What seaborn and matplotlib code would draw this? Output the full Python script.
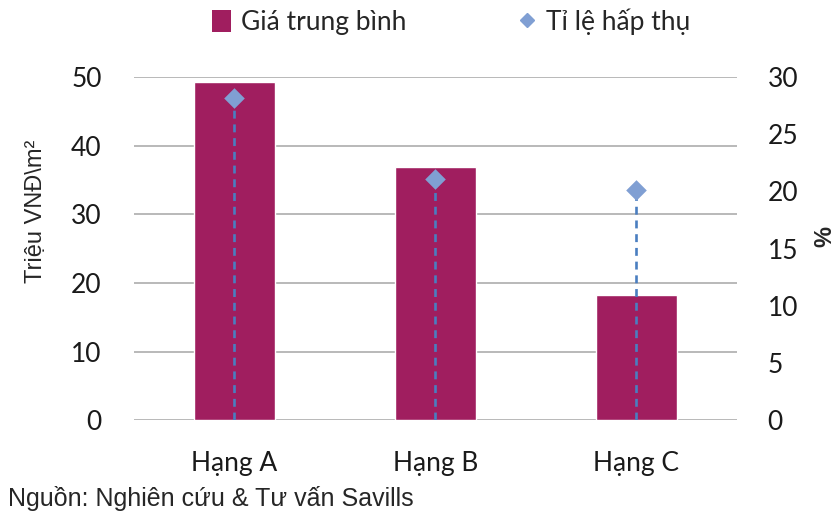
# Giá trung bình & tỉ lệ hấp thụ theo hạng
import numpy as np
import pandas as pd
import matplotlib
matplotlib.use("Agg")
import matplotlib.pyplot as plt
from matplotlib.lines import Line2D
from matplotlib.patches import Patch
import seaborn as sns

# Data
categories = ["Hạng A", "Hạng B", "Hạng C"]
gia_trung_binh = [49.3, 36.9, 18.2]   # Triệu VNĐ/m2
ti_le_hap_thu = [28.2, 21.1, 20.1]    # %
left_ticks = [0, 10, 20, 30, 40, 50]
right_ticks = [0, 5, 10, 15, 20, 25, 30]

df = pd.DataFrame({"hang": categories, "gia": gia_trung_binh, "ti_le": ti_le_hap_thu})

bar_color = "#A01E5F"
dot_color = "#809FD3"
line_color = "#4A7EC0"

sns.set_style("white")
plt.rcParams["font.family"] = ["Lato", "DejaVu Sans"]

fig = plt.figure(figsize=(8.36, 5.13), dpi=100)
ax = fig.add_axes([0.160, 0.181, 0.7216, 0.669])

sns.barplot(data=df, x="hang", y="gia", color=bar_color, width=0.4,
            saturation=1, ax=ax, zorder=2)
ax.set_ylim(0, 50)
ax.set_xlim(-0.5, 2.5)
ax.set_yticks(left_ticks)
ax.yaxis.grid(True, color="#A6A6A6", linewidth=1.1, zorder=0)
ax.set_axisbelow(True)
ax.tick_params(axis="y", length=0, pad=23, labelsize=19, labelcolor="#1a1a1a")
ax.tick_params(axis="x", length=0, pad=22, labelsize=19, labelcolor="#1a1a1a")
ax.set_xlabel("")
ax.set_ylabel("Triệu VNĐ\\m²", fontsize=17, family="Liberation Sans",
              ha="center", va="center")
ax.yaxis.set_label_coords(-0.1625, 0.608)
for s in ax.spines.values():
    s.set_visible(False)

ax2 = ax.twinx()
xpos = np.arange(len(categories))
ax2.vlines(xpos, 0, df["ti_le"], colors=line_color, linewidth=1.9,
           linestyles=(0, (3, 2.2)), zorder=2)
sns.scatterplot(x=xpos, y=df["ti_le"], marker="D", s=110, color=dot_color,
                edgecolor=dot_color, linewidth=0, ax=ax2, zorder=3)
ax2.set_ylim(0, 30)
ax2.set_xlim(-0.5, 2.5)
ax2.set_yticks(right_ticks)
ax2.tick_params(axis="y", length=0, pad=22, labelsize=19, labelcolor="#1a1a1a")
ax2.set_ylabel("%", fontsize=17, fontweight="bold", family="Liberation Sans",
               rotation=90, ha="center", va="center")
ax2.yaxis.set_label_coords(1.146, 0.535)
for s in ax2.spines.values():
    s.set_visible(False)

handles = [Patch(facecolor=bar_color, edgecolor="none"),
           Line2D([], [], marker="D", linestyle="none", markersize=7,
                  markerfacecolor=dot_color, markeredgecolor=dot_color)]
fig.legend(handles, ["Giá trung bình", "Tỉ lệ hấp thụ"], loc="center",
           bbox_to_anchor=(0.540, 0.958), ncol=2, frameon=False, fontsize=19,
           handlelength=0.7, handleheight=0.9, handletextpad=0.4,
           columnspacing=4.2)

fig.text(0.010, 0.029, "Nguồn: Nghiên cứu & Tư vấn Savills", fontsize=18,
         family="Liberation Sans", ha="left", va="center")

fig.savefig("out.png", dpi=100)
